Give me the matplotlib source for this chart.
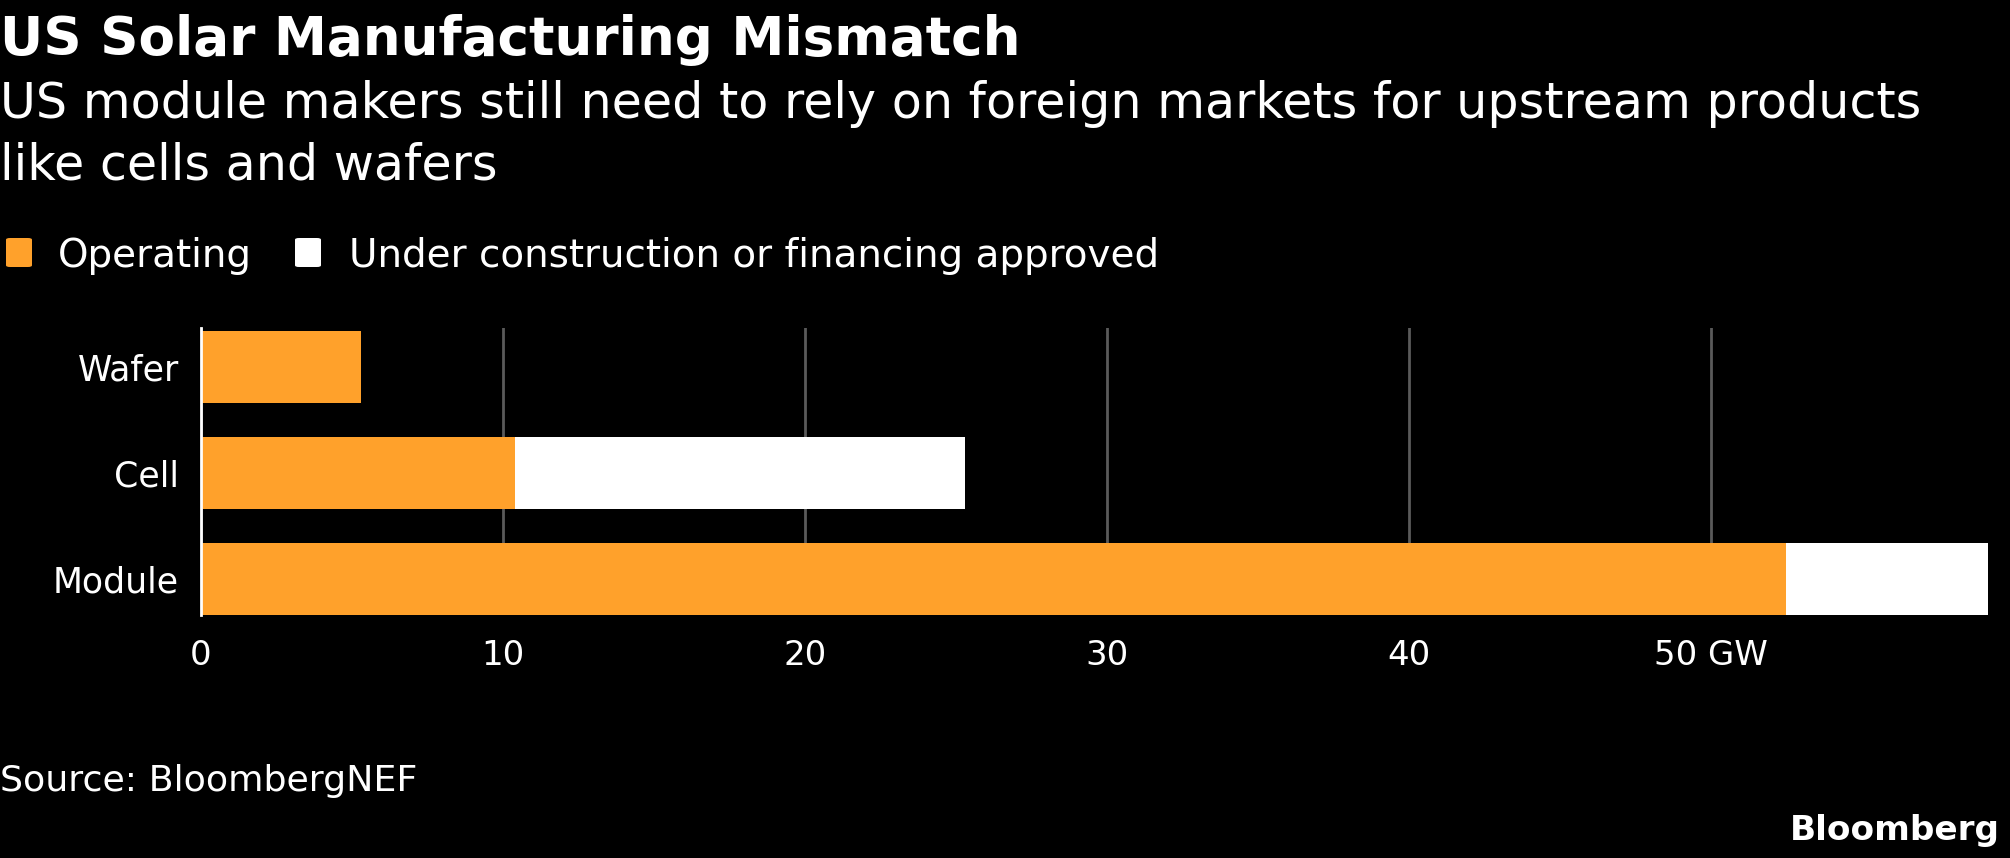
import matplotlib.pyplot as plt
import matplotlib.patches as mpatches

# Data (GW)
stages = ['Module', 'Cell', 'Wafer']
operating = [52.5, 10.4, 5.3]
under_construction = [6.7, 14.9, 0.0]
x_ticks = [0, 10, 20, 30, 40, 50]
x_tick_labels = ['0', '10', '20', '30', '40', '50 GW']

orange = '#ffa12b'
W, H = 2010, 858

plt.rcParams['font.family'] = ['DejaVu Sans']
fig = plt.figure(figsize=(W / 100, H / 100), dpi=100, facecolor='black')

# Axes placed in pixel terms
left, right, top, bottom = 201, 1990, 328, 615
ax = fig.add_axes([left / W, 1 - bottom / H, (right - left) / W, (bottom - top) / H])
ax.set_facecolor('black')

ypos = range(len(stages))
ax.barh(ypos, operating, height=0.68, color=orange, zorder=3)
ax.barh(ypos, under_construction, left=operating, height=0.68, color='white', zorder=3)

ax.set_xlim(0, 59.25)
ax.set_ylim(-0.34, 2.37)
ax.set_xticks(x_ticks)
ax.set_xticklabels(x_tick_labels)
ax.set_yticks(list(ypos))
ax.set_yticklabels(stages)
ax.tick_params(axis='x', length=0, pad=17, labelsize=24.5, colors='white')
ax.tick_params(axis='y', length=0, pad=16, labelsize=25, colors='white')
ax.grid(axis='x', color='#5a5a5a', linewidth=2, zorder=0)
ax.grid(axis='y', visible=False)
for s in ['top', 'right', 'bottom']:
    ax.spines[s].set_visible(False)
ax.spines['left'].set_color('white')
ax.spines['left'].set_linewidth(2)
ax.spines['left'].set_zorder(4)

# Titles
fig.text(0, 1 - 55 / H, 'US Solar Manufacturing Mismatch', color='white',
         fontsize=38.3, fontweight='bold', va='baseline', ha='left')
fig.text(0, 1 - 118 / H, 'US module makers still need to rely on foreign markets for upstream products',
         color='white', fontsize=35.4, va='baseline', ha='left')
fig.text(0, 1 - 180 / H, 'like cells and wafers', color='white', fontsize=35.4,
         va='baseline', ha='left')

# Legend
for x0, col, label, tx in [(6, orange, 'Operating', 58),
                           (295, 'white', 'Under construction or financing approved', 349)]:
    box = mpatches.FancyBboxPatch((x0 / W, 1 - 267 / H), 26 / W, 29 / H,
                                  boxstyle='round,pad=0,rounding_size=0.002',
                                  transform=fig.transFigure, facecolor=col,
                                  edgecolor='none')
    fig.patches.append(box)
    fig.text(tx / W, 1 - 267 / H, label, color='white', fontsize=28,
             va='baseline', ha='left')

# Footer
fig.text(0, 1 - 791 / H, 'Source: BloombergNEF', color='white', fontsize=26.2,
         va='baseline', ha='left')
fig.text(2000 / W, 1 - 840 / H, 'Bloomberg', color='white', fontsize=24.7,
         fontweight='bold', va='baseline', ha='right')

fig.savefig('out.png', dpi=100, facecolor='black')
